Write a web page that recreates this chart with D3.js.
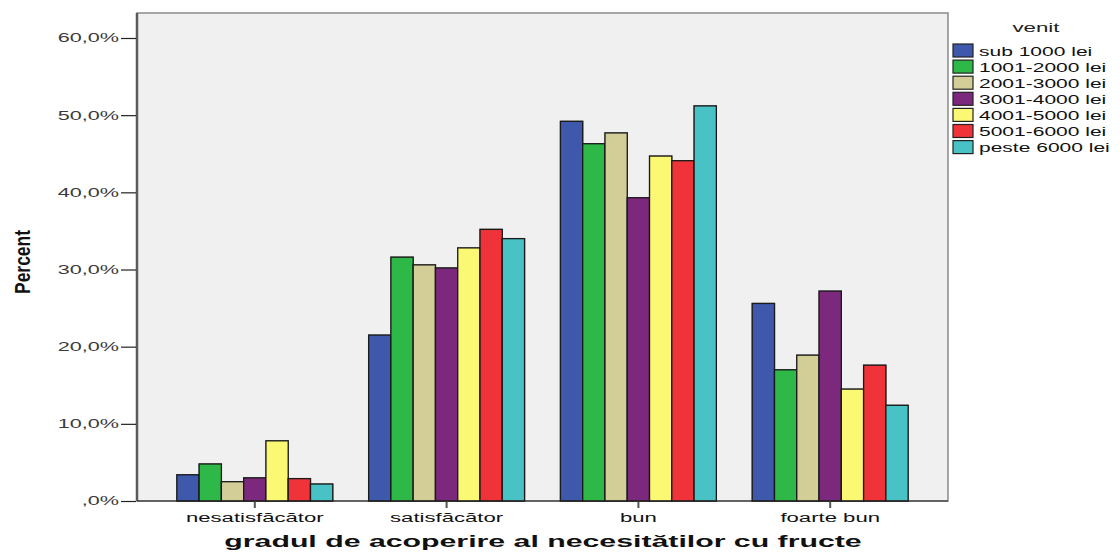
<!DOCTYPE html>
<html><head><meta charset="utf-8">
<script src="https://cdn.jsdelivr.net/npm/d3@7"></script>
<style>
body{margin:0;background:#fff;}
svg{display:block;}
</style></head>
<body>
<svg id="chart" width="1120" height="552"></svg>
<script>
const categories = ["nesatisfăcător", "satisfăcător", "bun", "foarte bun"];
const seriesNames = ["sub 1000 lei", "1001-2000 lei", "2001-3000 lei", "3001-4000 lei", "4001-5000 lei", "5001-6000 lei", "peste 6000 lei"];
const seriesColors = ["#3e58ac", "#2eb848", "#d3ce97", "#7c287d", "#fbf873", "#ef3338", "#48c2c5"];
const sub1000    = [3.4, 21.5, 49.2, 25.6];
const s1001_2000 = [4.8, 31.6, 46.3, 17.0];
const s2001_3000 = [2.5, 30.6, 47.7, 18.9];
const s3001_4000 = [3.0, 30.2, 39.3, 27.2];
const s4001_5000 = [7.8, 32.8, 44.7, 14.5];
const s5001_6000 = [2.9, 35.2, 44.1, 17.6];
const peste6000  = [2.2, 34.0, 51.2, 12.4];
const seriesValues = [sub1000, s1001_2000, s2001_3000, s3001_4000, s4001_5000, s5001_6000, peste6000];
const yTicks = [0, 10, 20, 30, 40, 50, 60];
const yTickLabels = [",0%", "10,0%", "20,0%", "30,0%", "40,0%", "50,0%", "60,0%"];
const legendTitle = "venit";
const xTitle = "gradul de acoperire al necesitătilor cu fructe";
const yTitle = "Percent";

const svg = d3.select("#chart");
const frame = {left: 137, right: 948, top: 13, bottom: 501};
const FONT = "Arial, 'Liberation Sans', sans-serif";

// horizontally stretch text glyphs (reference image is widened)
function stretch(sel, factor) {
  sel.each(function() {
    const len = this.getComputedTextLength();
    d3.select(this).attr("textLength", len * factor).attr("lengthAdjust", "spacingAndGlyphs");
  });
}

const y = d3.scaleLinear().domain([0, 60]).range([501, 38]);
const x0 = d3.scaleBand().domain(categories).range([159, 926]).paddingInner(0.187).paddingOuter(0.093);
const x1 = d3.scaleBand().domain(seriesNames).range([0, x0.bandwidth()]).padding(0);

// plot background
svg.append("rect").attr("x", frame.left).attr("y", frame.top)
  .attr("width", frame.right - frame.left).attr("height", frame.bottom - frame.top)
  .attr("fill", "#f0f0f0").attr("stroke", "#8a8a8a").attr("stroke-width", 1.5);

// bars
const groups = svg.append("g").selectAll("g").data(categories).join("g")
  .attr("transform", d => `translate(${x0(d)},0)`);
groups.selectAll("rect").data((c, ci) => seriesNames.map((s, si) => ({s, si, v: seriesValues[si][ci]})))
  .join("rect")
  .attr("x", d => x1(d.s)).attr("width", x1.bandwidth())
  .attr("y", d => y(d.v)).attr("height", d => y(0) - y(d.v))
  .attr("fill", d => seriesColors[d.si])
  .attr("stroke", "#1a1a1a").attr("stroke-width", 1.3)
  .style("filter", "drop-shadow(0.6px 0px 0.6px rgba(0,0,0,0.5))");

// left axis line (thick gray)
svg.append("line").attr("x1", frame.left).attr("x2", frame.left).attr("y1", frame.top).attr("y2", frame.bottom)
  .attr("stroke", "#5a5a5a").attr("stroke-width", 2.5);

// y axis
const yAxis = d3.axisLeft(y).tickValues(yTicks).tickFormat((d, i) => yTickLabels[i]).tickSize(15).tickPadding(2);
const gy = svg.append("g").attr("transform", `translate(${frame.left - 1},0)`).call(yAxis);
gy.select(".domain").remove();
gy.selectAll("line").attr("stroke", "#222").attr("stroke-width", 1.2);
gy.selectAll("text").attr("font-family", FONT).attr("font-size", 12).attr("fill", "#3a3a3a")
  .call(stretch, 1.8);

// x axis
const xAxis = d3.axisBottom(x0).tickSize(7).tickPadding(5);
const gx = svg.append("g").attr("transform", `translate(0,${frame.bottom})`).call(xAxis);
gx.select(".domain").remove();
gx.selectAll("line").attr("stroke", "#555").attr("stroke-width", 2);
gx.selectAll("text").attr("font-family", FONT).attr("font-size", 12.5).attr("fill", "#111")
  .call(stretch, 1.77);
svg.append("line").attr("x1", frame.left).attr("x2", frame.right).attr("y1", frame.bottom).attr("y2", frame.bottom)
  .attr("stroke", "#222").attr("stroke-width", 1.2);

// axis titles
svg.append("text").attr("x", 543).attr("y", 547).attr("text-anchor", "middle")
  .attr("font-family", FONT).attr("font-weight", "bold")
  .attr("font-size", 17).attr("fill", "#111").text(xTitle)
  .call(stretch, 1.78);
svg.append("text").attr("transform", "translate(30,262) scale(1.45,1) rotate(-90)").attr("text-anchor", "middle")
  .attr("font-family", "'Liberation Sans Narrow', 'Arial Narrow', " + FONT).attr("font-weight", "bold")
  .attr("font-size", 15).attr("fill", "#111")
  .attr("textLength", 64).attr("lengthAdjust", "spacingAndGlyphs").text(yTitle);

// legend
const lg = svg.append("g");
lg.append("text").attr("x", 1036).attr("y", 32).attr("text-anchor", "middle")
  .attr("font-family", FONT).attr("font-size", 13.5).attr("fill", "#222").text(legendTitle)
  .call(stretch, 1.65);
const items = lg.selectAll("g").data(seriesNames).join("g")
  .attr("transform", (d, i) => `translate(953,${44 + i * 16.1})`);
items.append("rect").attr("width", 20).attr("height", 13)
  .attr("fill", (d, i) => seriesColors[i]).attr("stroke", "#222").attr("stroke-width", 1.2);
items.append("text").attr("x", 26).attr("y", 11.5)
  .attr("font-family", FONT).attr("font-size", 12.5).attr("fill", "#111").text(d => d)
  .call(stretch, 1.68);
</script>
</body></html>
